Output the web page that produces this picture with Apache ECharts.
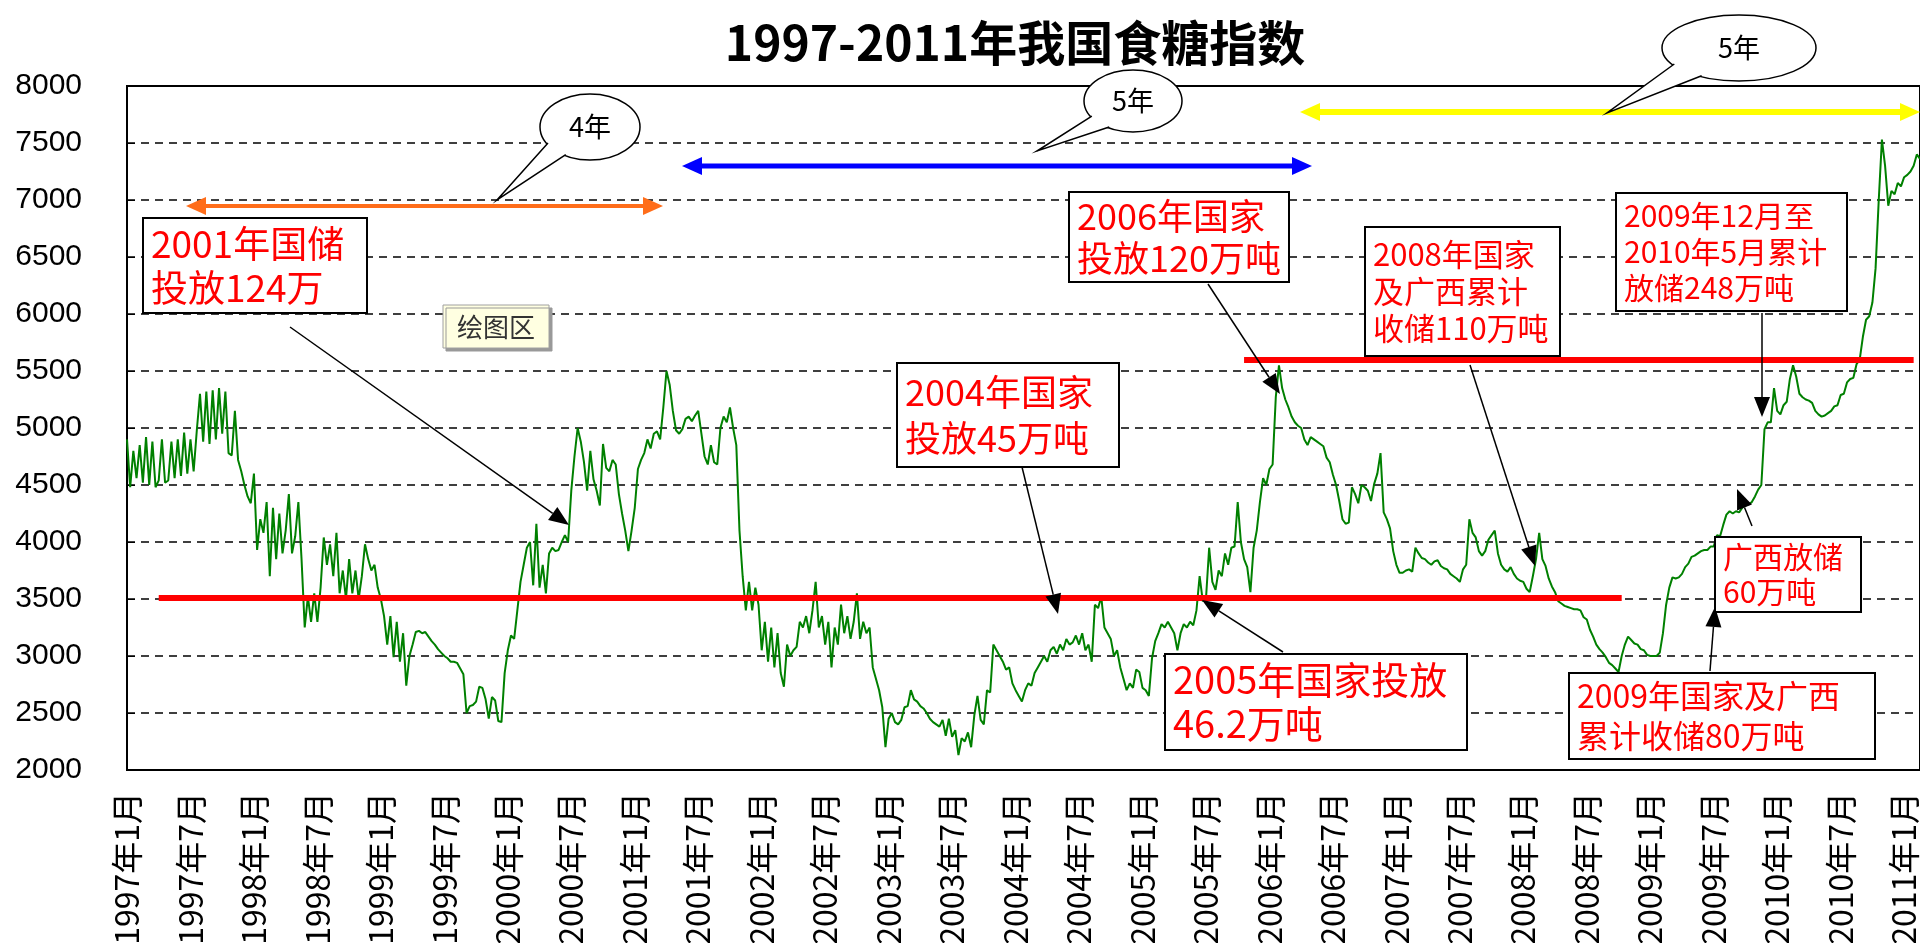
<!DOCTYPE html>
<html>
<head>
<meta charset="utf-8">
<title>1997-2011年我国食糖指数</title>
<script src="https://cdn.jsdelivr.net/npm/echarts@6/dist/echarts.min.js"></script>
<style>
    html, body { margin: 0; padding: 0; background: #fff; }
    #sugarChart { width: 1920px; height: 943px; }
</style>
</head>
<body>
<div id="sugarChart"></div>
<script>
// 横轴刻度（每半年一个）
const tickLabels = [
    '1997年1月', '1997年7月', '1998年1月', '1998年7月', '1999年1月', '1999年7月',
    '2000年1月', '2000年7月', '2001年1月', '2001年7月', '2002年1月', '2002年7月',
    '2003年1月', '2003年7月', '2004年1月', '2004年7月', '2005年1月', '2005年7月',
    '2006年1月', '2006年7月', '2007年1月', '2007年7月', '2008年1月', '2008年7月',
    '2009年1月', '2009年7月', '2010年1月', '2010年7月', '2011年1月'
];
const stepsPerHalfYear = 20;

// 食糖指数，每半年 20 个点
const sugarIndex = [
    4900, 4480, 4800, 4560, 4850, 4520, 4920, 4500, 4880, 4480, 4540, 4900, 4520, 4540, 4880, 4560, 4900, 4580, 4960, 4600,
    4900, 4620, 4980, 5300, 4880, 5320, 4860, 5330, 4900, 5350, 4950, 5320, 4780, 4760, 5150, 4720, 4620, 4500, 4400, 4340,
    4600, 3930, 4200, 4080, 4350, 3700, 4300, 3850, 4250, 3900, 4100, 4420, 3900, 4050, 4350, 3850, 3250, 3520, 3300, 3550,
    3300, 3600, 4040, 3800, 3980, 3700, 4080, 3550, 3750, 3500, 3850, 3550, 3750, 3500, 3700, 3980, 3850, 3750, 3800, 3600,
    3500, 3350, 3100, 3350, 2990, 3300, 2950, 3200, 2740, 3000, 3100, 3210, 3220, 3200, 3210, 3170, 3130, 3100, 3060, 3030,
    3000, 2980, 2950, 2950, 2940, 2890, 2840, 2500, 2560, 2570, 2600, 2730, 2720, 2620, 2450, 2640, 2610, 2430, 2420, 2850,
    3050, 3180, 3150, 3400, 3650, 3800, 3950, 4000, 3620, 4160, 3600, 3800, 3550, 3900, 3950, 3920, 3930, 4000, 4060, 4000,
    4450, 4750, 5000, 4880, 4700, 4450, 4800, 4550, 4450, 4320, 4860, 4650, 4620, 4720, 4680, 4420, 4250, 4100, 3920, 4100,
    4300, 4640, 4720, 4780, 4900, 4820, 4950, 4970, 4900, 5180, 5500, 5380, 5150, 4980, 4950, 4990, 5080, 5100, 5060, 5110,
    5150, 4950, 4750, 4680, 4850, 4700, 4680, 5000, 5100, 5050, 5180, 5000, 4850, 4100, 3700, 3400, 3650, 3400, 3600, 3450,
    3050, 3300, 2950, 3250, 2900, 3200, 2850, 2730, 3100, 3000, 3050, 3080, 3300, 3250, 3350, 3200, 3400, 3650, 3250, 3350,
    3100, 3300, 2900, 3250, 3100, 3450, 3200, 3350, 3150, 3300, 3550, 3150, 3300, 3200, 3250, 2900, 2800, 2700, 2550, 2200,
    2450, 2500, 2420, 2400, 2440, 2550, 2560, 2700, 2620, 2600, 2560, 2540, 2500, 2450, 2420, 2400, 2380, 2440, 2300, 2450,
    2290, 2350, 2130, 2280, 2250, 2330, 2200, 2480, 2650, 2440, 2400, 2700, 2680, 3100, 3050, 3000, 2950, 2880, 2900, 2760,
    2700, 2650, 2600, 2700, 2760, 2740, 2850, 2900, 2950, 3000, 2950, 3050, 3080, 3020, 3100, 3050, 3150, 3100, 3120, 3180,
    3100, 3200, 3050, 3100, 2950, 3450, 3420, 3520, 3250, 3200, 3150, 3000, 3050, 2900, 2800, 2700, 2760, 2720, 2880, 2860,
    2720, 2700, 2650, 2980, 3130, 3200, 3280, 3250, 3300, 3250, 3200, 3050, 3200, 3280, 3250, 3300, 3270, 3400, 3700, 3480,
    3500, 3950, 3650, 3580, 3750, 3700, 3900, 3800, 3950, 3960, 4350, 4000, 3850, 3780, 3560, 3950, 4100, 4350, 4560, 4500,
    4640, 4680, 5270, 5550, 5350, 5250, 5180, 5100, 5050, 5020, 5000, 4900, 4850, 4920, 4900, 4880, 4860, 4840, 4740, 4700,
    4590, 4500, 4360, 4200, 4160, 4170, 4480, 4420, 4340, 4500, 4480, 4450, 4360, 4510, 4600, 4780, 4260, 4200, 4120, 3920,
    3800, 3730, 3730, 3750, 3760, 3740, 3950, 3900, 3860, 3850, 3820, 3800, 3830, 3840, 3790, 3770, 3760, 3720, 3700, 3680,
    3650, 3760, 3800, 4200, 4080, 4040, 3920, 3880, 3920, 4020, 4060, 4100, 3900, 3800, 3760, 3740, 3780, 3720, 3680, 3660,
    3650, 3590, 3560, 3700, 3850, 4080, 3850, 3790, 3680, 3610, 3560, 3480, 3460, 3440, 3430, 3420, 3410, 3410, 3400, 3340,
    3320, 3230, 3170, 3100, 3060, 3030, 2990, 2940, 2920, 2890, 2860, 3000, 3100, 3170, 3140, 3110, 3100, 3060, 3050, 3010,
    3000, 3000, 3000, 3030, 3200, 3450, 3600, 3690, 3680, 3690, 3720, 3780, 3810, 3870, 3880, 3900, 3920, 3930, 3930, 3960,
    3960, 4060, 4050, 4150, 4240, 4270, 4250, 4270, 4260, 4300, 4320, 4330, 4350, 4400, 4460, 4500, 4990, 5050, 5050, 5350,
    5150, 5120, 5200, 5230, 5430, 5550, 5450, 5300, 5270, 5250, 5240, 5220, 5150, 5120, 5100, 5110, 5130, 5150, 5190, 5200,
    5290, 5300, 5400, 5430, 5440, 5560, 5600, 5800, 5950, 5980, 6100, 6400, 7000, 7530, 7300, 6950, 7080, 7050, 7150, 7120,
    7200, 7220, 7250, 7300, 7400, 7360
];

// 两条红色参考线：[起点序号, 终点序号, 指数]
const lowLevel = [10, 471, 3510];
const highLevel = [352, 563, 5600];

// 每个点的类目名，半年首点用刻度文字
const categories = sugarIndex.map((v, i) => {
    const k = Math.floor(i / stepsPerHalfYear);
    const j = i % stepsPerHalfYear;
    return j === 0 ? tickLabels[k] : tickLabels[k] + '-' + j;
});

const cjkFont = "'Noto Sans CJK SC', sans-serif";

// ---- 注释图形（像素位置）----
function pointer(x1, y1, x2, y2) {
    const len = 20, half = 8;
    const d = Math.hypot(x2 - x1, y2 - y1);
    const ux = (x2 - x1) / d, uy = (y2 - y1) / d;
    const bx = x2 - ux * len, by = y2 - uy * len;
    return [
        { type: 'line', z: 100, shape: { x1: x1, y1: y1, x2: bx, y2: by },
          style: { stroke: '#000', lineWidth: 1.5 } },
        { type: 'polygon', z: 100,
          shape: { points: [[x2, y2], [bx - uy * half, by + ux * half], [bx + uy * half, by - ux * half]] },
          style: { fill: '#000' } }
    ];
}

function doubleArrow(x1, x2, y, color, width) {
    const len = 20, half = 9;
    return [
        { type: 'line', z: 90, shape: { x1: x1 + len - 2, y1: y, x2: x2 - len + 2, y2: y },
          style: { stroke: color, lineWidth: width } },
        { type: 'polygon', z: 90, shape: { points: [[x1, y], [x1 + len, y - half], [x1 + len, y + half]] },
          style: { fill: color } },
        { type: 'polygon', z: 90, shape: { points: [[x2, y], [x2 - len, y - half], [x2 - len, y + half]] },
          style: { fill: color } }
    ];
}

function noteBox(x, y, w, h, lines, fontSize, lineHeight) {
    return [
        { type: 'rect', z: 100, shape: { x: x, y: y, width: w, height: h },
          style: { fill: '#fff', stroke: '#000', lineWidth: 2 } },
        { type: 'text', z: 101,
          style: { x: x + 8, y: y + h / 2, text: lines.join('\n'), fill: '#ff0000',
                   fontSize: fontSize, fontFamily: cjkFont, lineHeight: lineHeight,
                   align: 'left', verticalAlign: 'middle' } }
    ];
}

function bubble(cx, cy, rx, ry, tipX, tipY, text) {
    const a1 = 150 * Math.PI / 180, a2 = 120 * Math.PI / 180;
    const p1 = [cx + rx * Math.cos(a1) * 0.97, cy + ry * Math.sin(a1) * 0.97];
    const p2 = [cx + rx * Math.cos(a2) * 0.97, cy + ry * Math.sin(a2) * 0.97];
    return [
        { type: 'ellipse', z: 95, shape: { cx: cx, cy: cy, rx: rx, ry: ry },
          style: { fill: '#fff', stroke: '#000', lineWidth: 1.5 } },
        { type: 'polygon', z: 96, shape: { points: [p1, [tipX, tipY], p2] },
          style: { fill: '#fff' } },
        { type: 'polyline', z: 96, shape: { points: [p1, [tipX, tipY], p2] },
          style: { stroke: '#000', lineWidth: 1.5, fill: null } },
        { type: 'text', z: 97,
          style: { x: cx, y: cy, text: text, fill: '#000', fontSize: 27, fontFamily: cjkFont,
                   align: 'center', verticalAlign: 'middle' } }
    ];
}

const annotations = [].concat(
    doubleArrow(186, 663, 206, '#ff6d1a', 4),
    doubleArrow(682, 1312, 166, '#0000ff', 5),
    doubleArrow(1300, 1920, 112, '#ffff00', 6),
    bubble(590, 127, 50, 33, 497, 200, '4年'),
    bubble(1133, 101, 49, 31, 1037, 151, '5年'),
    bubble(1739, 48, 77, 33, 1607, 113, '5年'),
    [
        { type: 'rect', z: 100, shape: { x: 443, y: 305, width: 106, height: 43 },
          style: { fill: '#ffffe1', stroke: '#a0a0a0', lineWidth: 1,
                   shadowColor: '#999', shadowOffsetX: 3, shadowOffsetY: 3 } },
        { type: 'text', z: 101,
          style: { x: 496, y: 327, text: '绘图区', fill: '#333', fontSize: 26, fontFamily: cjkFont,
                   align: 'center', verticalAlign: 'middle' } }
    ],
    pointer(290, 327, 569, 525),
    pointer(1022, 467, 1058, 614),
    pointer(1208, 284, 1280, 394),
    pointer(1283, 652, 1202, 600),
    pointer(1470, 365, 1535, 566),
    pointer(1762, 313, 1762, 417),
    pointer(1752, 526, 1737, 489),
    pointer(1710, 671, 1715, 607),
    noteBox(143, 218, 224, 95, ['2001年国储', '投放124万'], 37, 44),
    noteBox(897, 363, 222, 104, ['2004年国家', '投放45万吨'], 36, 46),
    noteBox(1069, 192, 220, 90, ['2006年国家', '投放120万吨'], 36, 42),
    noteBox(1165, 654, 302, 96, ['2005年国家投放', '46.2万吨'], 38, 44),
    noteBox(1365, 227, 195, 129, ['2008年国家', '及广西累计', '收储110万吨'], 31, 37),
    noteBox(1616, 193, 231, 118, ['2009年12月至', '2010年5月累计', '放储248万吨'], 30, 36),
    noteBox(1715, 537, 146, 75, ['广西放储', '60万吨'], 30, 35),
    noteBox(1569, 673, 306, 86, ['2009年国家及广西', '累计收储80万吨'], 32, 40)
);

const sugarChart = echarts.init(document.getElementById('sugarChart'));
const chartOptions = {
    backgroundColor: '#fff',
    animation: false,
    title: {
        text: '1997-2011年我国食糖指数',
        left: 1010,
        top: 14,
        textAlign: 'center',
        textStyle: { fontSize: 48, fontWeight: 'bold', fontFamily: cjkFont, color: '#000' }
    },
    grid: {
        left: 127,
        top: 86,
        right: 0,
        bottom: 173,
        containLabel: false,
        outerBoundsMode: 'none',
        show: true,
        borderColor: '#000',
        borderWidth: 2,
        backgroundColor: '#fff'
    },
    xAxis: {
        type: 'category',
        data: categories,
        boundaryGap: false,
        axisLine: { lineStyle: { color: '#000', width: 2 } },
        axisTick: { show: false },
        splitLine: { show: false },
        axisLabel: {
            interval: (index) => index % stepsPerHalfYear === 0,
            rotate: 90,
            margin: 22,
            color: '#000',
            fontSize: 32,
            fontFamily: cjkFont
        }
    },
    yAxis: {
        type: 'value',
        min: 2000,
        max: 8000,
        interval: 500,
        axisLine: { show: true, lineStyle: { color: '#000', width: 2 } },
        axisTick: { show: true, inside: true, length: 8, lineStyle: { color: '#000' } },
        axisLabel: {
            margin: 45,
            color: '#000',
            fontSize: 30,
            fontFamily: "'Liberation Sans', sans-serif",
            formatter: (v) => String(v) // 不要千分位
        },
        splitLine: {
            lineStyle: { color: '#000', type: [8, 6], width: 1.5 } // 虚线网格
        }
    },
    series: [
        {
            name: '食糖指数',
            type: 'line',
            data: sugarIndex,
            showSymbol: false,
            lineStyle: { color: '#008000', width: 2 },
            itemStyle: { color: '#008000' },
            markLine: {
                silent: true,
                symbol: 'none',
                label: { show: false },
                lineStyle: { color: '#ff0000', width: 6, type: 'solid' },
                data: [
                    [{ coord: [lowLevel[0], lowLevel[2]] }, { coord: [lowLevel[1], lowLevel[2]] }],
                    [{ coord: [highLevel[0], highLevel[2]] }, { coord: [highLevel[1], highLevel[2]] }]
                ]
            }
        }
    ],
    graphic: { elements: annotations }
};
sugarChart.setOption(chartOptions);
</script>
</body>
</html>
